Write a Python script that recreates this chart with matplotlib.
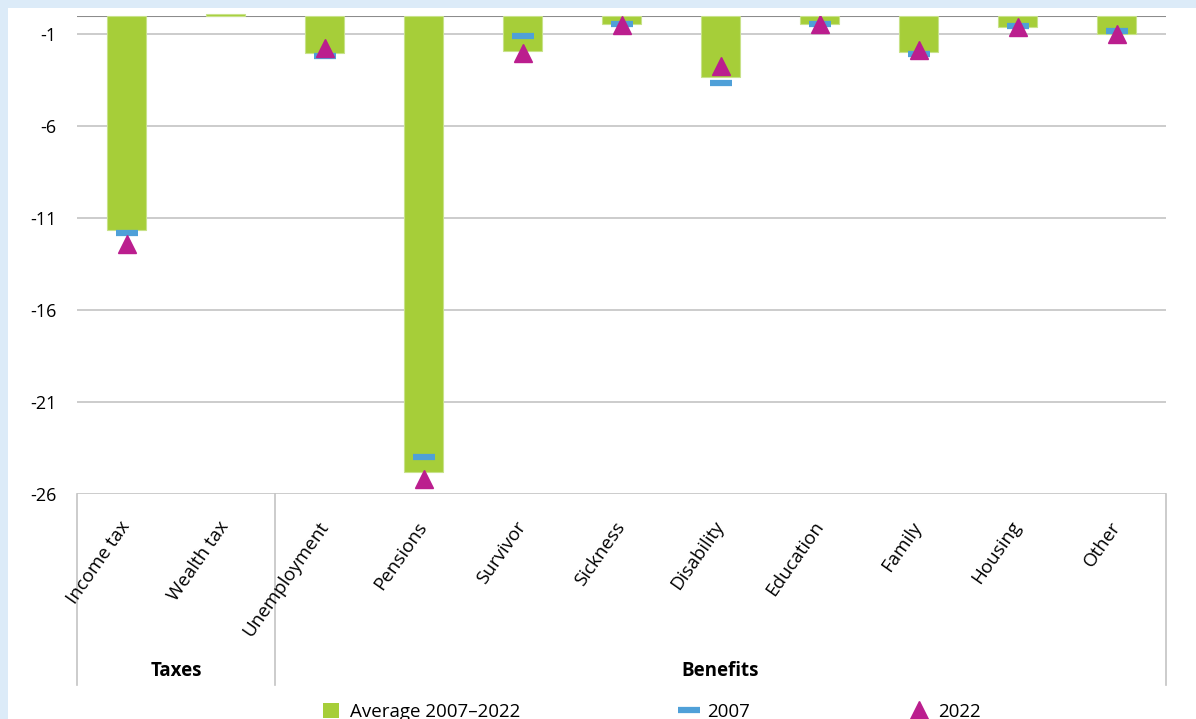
import matplotlib
matplotlib.use("Agg")
import matplotlib.pyplot as plt
import matplotlib.patches as patches
from matplotlib.lines import Line2D
import numpy as np

plt.rcParams['font.family'] = ['Open Sans', 'DejaVu Sans']

categories = ["Income tax", "Wealth tax", "Unemployment", "Pensions", "Survivor",
              "Sickness", "Disability", "Education", "Family", "Housing", "Other"]
average = [-11.65, 0.1, -2.03, -24.8, -1.92, -0.46, -3.34, -0.46, -1.96, -0.6, -0.96]
y2007 = [-11.8, np.nan, -2.2, -24.0, -1.1, -0.46, -3.66, -0.46, -2.05, -0.57, -0.84]
y2022 = [-12.4, np.nan, -1.76, -25.2, -2.03, -0.5, -2.7, -0.42, -1.87, -0.62, -1.0]
groups = [("Taxes", 0, 1), ("Benefits", 2, 10)]
yticks = [-1, -6, -11, -16, -21, -26]

green = "#a6ce39"
blue = "#4fa0d8"
magenta = "#bb1e8e"
grid = "#c4c4c4"

fig = plt.figure(figsize=(11.96, 7.19), dpi=100, facecolor="#dcebf8")
fig.patches.append(patches.Rectangle((8 / 1196, 0), 1, 1 - 8 / 719, transform=fig.transFigure,
                                     facecolor="white", edgecolor="none", zorder=-10))

ax = fig.add_axes([77 / 1196, 1 - 494 / 719, (1166 - 77) / 1196, (494 - 16) / 719])
ax.set_facecolor("none")
x = np.arange(len(categories))

ax.bar(x, average, width=0.4, color=green, edgecolor="#c8e28a", linewidth=0.8,
       clip_on=False, zorder=2, label="Average 2007\u20132022")
ax.plot(x, y2007, linestyle="none", marker="_", ms=16, mew=4.5, color=blue,
        solid_capstyle="round", zorder=3, label="2007")
ax.plot(x, y2022, linestyle="none", marker="^", ms=13, color=magenta, mec=magenta,
        zorder=4, label="2022")

ax.set_xlim(-0.5, len(categories) - 0.5)
ax.set_ylim(-26, 0)
ax.set_yticks(yticks)
ax.set_yticklabels([str(t) for t in yticks], fontsize=13)
ax.tick_params(axis="y", length=0, pad=15)
ax.tick_params(axis="x", length=0, labelbottom=False)
for t in yticks:
    ax.axhline(t, color=grid, linewidth=1.2, zorder=1)
ax.axhline(0, color="#8c8c8c", linewidth=1.5, zorder=1)
for s in ax.spines.values():
    s.set_visible(False)

# category labels, rotated
for i, name in enumerate(categories):
    ax.annotate(name, xy=(i, 0), xycoords=("data", "axes fraction"),
                xytext=(0, -21), textcoords="offset points",
                rotation=55, rotation_mode="anchor", ha="right", va="center",
                fontsize=13.5, annotation_clip=False)

# group separators and labels
xt = ax.get_xaxis_transform()
for sep in [-0.5, 1.5, len(categories) - 0.5]:
    ax.plot([sep, sep], [0, -0.4], color=grid, linewidth=1.2, transform=xt, clip_on=False)
for name, a, b in groups:
    ax.text((a + b) / 2, -0.37, name, transform=xt, ha="center", va="center",
            fontsize=13.5, fontweight="bold")

handles = [patches.Patch(facecolor=green, edgecolor="none", label="Average 2007\u20132022"),
           Line2D([], [], linestyle="none", marker="_", ms=16, mew=4.5, color=blue, label="2007"),
           Line2D([], [], linestyle="none", marker="^", ms=13, color=magenta, label="2022")]
fig.legend(handles=handles, loc="center", bbox_to_anchor=(0.545, 1 - 712 / 719), ncol=3,
           frameon=False, fontsize=13.5, columnspacing=8.6, handlelength=0.85, handleheight=0.85,
           handletextpad=0.55)

fig.savefig("out.png", dpi=100, facecolor=fig.get_facecolor())
